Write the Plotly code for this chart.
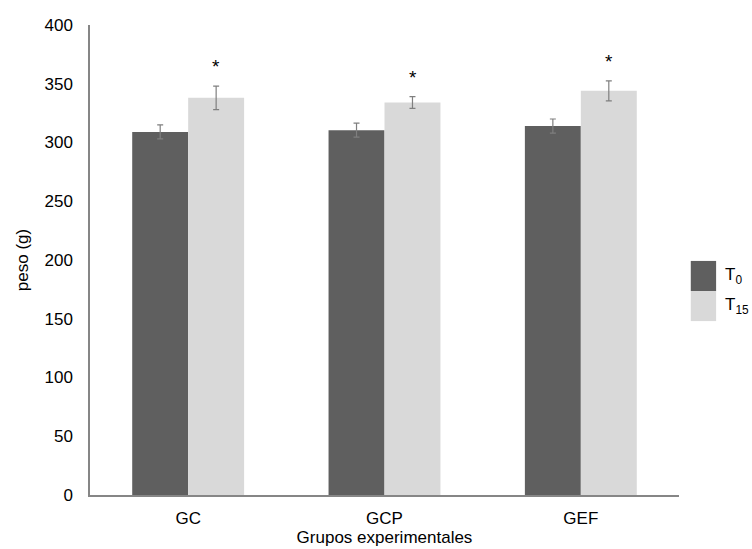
import plotly.graph_objects as go

categories = ["GC", "GCP", "GEF"]
t0_values = [309, 310.5, 314]
t0_errors = [6, 6, 6]
t15_values = [338, 334, 344]
t15_errors = [10, 5, 8.5]
significant = ["*", "*", "*"]
y_ticks = [0, 50, 100, 150, 200, 250, 300, 350, 400]

dark = "#5f5f5f"
light = "#d9d9d9"
err_col = "#7f7f7f"
font_family = "Liberation Sans, Arial, sans-serif"
fs = 17

fig = go.Figure()
fig.add_trace(go.Bar(
    x=categories, y=t0_values, name="T<sub>0</sub>", marker_color=dark,
    marker_line_width=0,
    error_y=dict(type="data", array=t0_errors, color=err_col, thickness=1.2, width=3),
))
fig.add_trace(go.Bar(
    x=categories, y=t15_values, name="T<sub>15</sub>", marker_color=light,
    marker_line_width=0,
    error_y=dict(type="data", array=t15_errors, color=err_col, thickness=1.2, width=3),
))

for c, v, e, s in zip(categories, t15_values, t15_errors, significant):
    fig.add_annotation(x=c, y=v + e, text=s, showarrow=False, xshift=28, yshift=7,
                       yanchor="bottom", font=dict(size=19, color="#000000", family=font_family))

# custom legend with large swatches
fig.add_shape(type="rect", xref="paper", yref="paper", x0=1.02, x1=1.063, y0=0.434, y1=0.498,
              fillcolor=dark, line_width=0)
fig.add_shape(type="rect", xref="paper", yref="paper", x0=1.02, x1=1.063, y0=0.370, y1=0.434,
              fillcolor=light, line_width=0)
fig.add_annotation(xref="paper", yref="paper", x=1.074, y=0.466, text="T<sub>0</sub>",
                   showarrow=False, xanchor="left", yanchor="middle",
                   font=dict(size=fs, color="#000000", family=font_family))
fig.add_annotation(xref="paper", yref="paper", x=1.074, y=0.402, text="T<sub>15</sub>",
                   showarrow=False, xanchor="left", yanchor="middle",
                   font=dict(size=fs, color="#000000", family=font_family))

fig.update_layout(
    width=752, height=549,
    margin=dict(l=90, r=73, t=25, b=54),
    paper_bgcolor="white", plot_bgcolor="white",
    barmode="group", bargap=0.43, bargroupgap=0,
    showlegend=False,
    font=dict(family=font_family, size=fs, color="#000000"),
    xaxis=dict(
        showline=True, linecolor="#868686", linewidth=1.5,
        ticks="outside", ticklen=7, tickcolor="rgba(0,0,0,0)",
        title=dict(text="Grupos experimentales", standoff=1, font=dict(size=fs)),
        tickfont=dict(size=fs), automargin=False,
    ),
    yaxis=dict(
        range=[0, 400], tickvals=y_ticks, showgrid=False, zeroline=False,
        showline=True, linecolor="#868686", linewidth=1.5,
        ticks="outside", ticklen=12, tickcolor="rgba(0,0,0,0)",
        title=dict(text="peso (g)", standoff=12, font=dict(size=fs)),
        tickfont=dict(size=fs), automargin=False,
    ),
)

fig.write_html("out.html")
